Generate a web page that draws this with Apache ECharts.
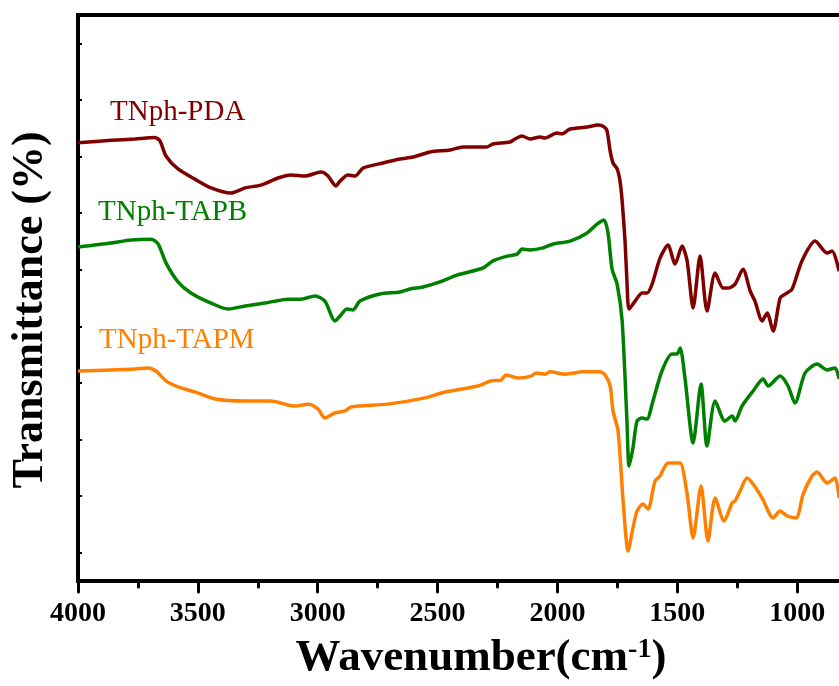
<!DOCTYPE html>
<html>
<head>
<meta charset="utf-8">
<script src="https://cdn.jsdelivr.net/npm/echarts@6/dist/echarts.min.js"></script>
<style>
html,body{margin:0;padding:0;background:#fff;}
#chart{width:839px;height:686px;}
</style>
</head>
<body>
<div id="chart"></div>
<script>
// Wavenumber (cm^-1) and transmittance (arbitrary offset units)
const pdaWave = [4000,3862,3762,3679,3658,3633,3583,3512,3445,3362,3303,3237,3166,3111,3053,2986,2957,2924,2907,2874,2844,2811,2728,2657,2602,2531,2448,2394,2294,2269,2198,2177,2148,2114,2073,2052,2002,1981,1947,1876,1831,1806,1793,1780,1768,1751,1739,1730,1718,1710,1701,1676,1647,1626,1605,1572,1539,1509,1480,1459,1434,1405,1376,1342,1309,1288,1259,1226,1196,1176,1146,1125,1100,1071,1050,1021,980,925,875,854,825];
const pdaT = [15.49,15.57,15.62,15.67,15.55,15.02,14.56,14.20,13.89,13.71,13.89,13.99,14.24,14.35,14.31,14.45,14.31,13.96,14.13,14.35,14.31,14.59,14.77,14.91,14.98,15.16,15.23,15.34,15.34,15.44,15.51,15.62,15.72,15.62,15.69,15.65,15.83,15.80,15.97,16.04,16.11,16.05,15.90,15.19,14.77,14.56,14.13,13.43,12.01,10.60,9.61,9.89,10.18,10.18,10.49,11.41,11.87,11.20,11.84,11.31,9.65,11.48,9.54,10.88,10.35,10.35,10.49,11.02,10.25,9.89,9.19,9.47,8.83,10.00,10.14,10.32,11.31,12.01,11.59,11.66,10.95];

const tapbWave = [4000,3862,3779,3695,3666,3633,3583,3529,3445,3374,3303,3220,3124,3070,3011,2970,2928,2907,2878,2853,2824,2740,2657,2615,2561,2490,2419,2310,2269,2210,2168,2148,2114,2060,2018,1947,1876,1835,1806,1789,1772,1751,1730,1710,1701,1685,1668,1647,1626,1605,1564,1522,1501,1488,1468,1434,1401,1376,1342,1301,1271,1259,1230,1184,1142,1121,1071,1038,1009,967,917,875,842,825];
const tapbT = [11.80,11.94,12.05,12.08,11.91,11.24,10.57,10.18,9.82,9.61,9.72,9.82,9.96,9.96,10.07,9.89,9.19,9.36,9.61,9.58,9.89,10.14,10.21,10.32,10.39,10.57,10.81,11.06,11.31,11.48,11.55,11.73,11.70,11.77,11.91,12.01,12.30,12.61,12.76,12.30,11.02,10.49,9.19,5.65,4.06,4.70,5.65,5.76,5.72,6.25,7.42,8.02,8.02,8.23,7.17,4.88,6.96,4.77,6.36,5.65,5.83,5.65,6.18,6.71,7.14,6.89,7.24,6.89,6.29,7.35,7.67,7.46,7.53,7.14];

const tapmWave = [4000,3862,3762,3708,3675,3633,3583,3512,3428,3303,3195,3095,3040,2999,2970,2928,2886,2861,2707,2552,2469,2331,2277,2235,2214,2164,2110,2089,2052,2031,1968,1893,1822,1801,1780,1768,1747,1726,1705,1685,1668,1643,1622,1593,1572,1539,1509,1488,1459,1434,1401,1372,1342,1305,1271,1259,1238,1209,1184,1146,1100,1071,1042,1004,975,938,917,875,842,825];
const tapmT = [7.42,7.46,7.49,7.53,7.42,7.07,6.86,6.68,6.43,6.36,6.36,6.18,6.25,6.08,5.76,5.94,6.01,6.15,6.25,6.47,6.68,6.89,7.07,7.10,7.28,7.17,7.24,7.35,7.31,7.39,7.31,7.39,7.39,7.28,6.89,6.01,5.30,2.83,1.06,1.87,2.47,2.72,2.54,3.53,3.71,4.17,4.17,4.17,3.07,1.52,3.36,1.41,2.93,2.12,2.76,2.83,3.18,3.64,3.43,2.93,2.23,2.47,2.30,2.23,3.07,3.71,3.85,3.46,3.64,2.93];

const seriesNames = ['TNph-PDA','TNph-TAPB','TNph-TAPM'];
const seriesColors = ['#800000','#008000','#FF8000'];
const yTicks = [1,3,5,7,9,11,13,15,17,19];

const zip = (a,b) => a.map((v,i) => [v,b[i]]);
const allData = [zip(pdaWave,pdaT), zip(tapbWave,tapbT), zip(tapmWave,tapmT)];

const FONT = "'Liberation Serif','Times New Roman',serif";
const chart = echarts.init(document.getElementById('chart'), null, {renderer:'canvas'});

chart.setOption({
  animation:false,
  backgroundColor:'#fff',
  grid:{left:78, top:15, bottom:105, width:839, containLabel:false, outerBoundsMode:'none',
        show:true, borderColor:'#000', borderWidth:4, backgroundColor:'transparent'},
  xAxis:{
    type:'value', min:500, max:4000, interval:500, inverse:true,
    axisLine:{show:true, lineStyle:{color:'#000', width:4}},
    axisTick:{show:true, length:11, lineStyle:{color:'#000', width:3, cap:'round'}},
    minorTick:{show:true, splitNumber:2, length:6, lineStyle:{color:'#000', width:3, cap:'round'}},
    axisLabel:{show:true, margin:19, color:'#000', fontFamily:FONT, fontWeight:'bold', fontSize:28,
               formatter:(v) => String(v)},
    splitLine:{show:false}
  },
  yAxis:{
    type:'value', min:0, max:20,
    axisLine:{show:true, lineStyle:{color:'#000', width:4}},
    axisTick:{show:true, inside:true, length:4, customValues:yTicks, lineStyle:{color:'#000', width:2}},
    axisLabel:{show:false},
    splitLine:{show:false}
  },
  series: allData.map((d,i) => ({
    name: seriesNames[i], type:'line', data:d, showSymbol:false, smooth:0.25,
    lineStyle:{color:seriesColors[i], width:3.5}, itemStyle:{color:seriesColors[i]}
  })),
  graphic:[
    {type:'text', left:110, top:98, style:{text:seriesNames[0], fill:seriesColors[0], font:'29px '+FONT}},
    {type:'text', left:98, top:198, style:{text:seriesNames[1], fill:seriesColors[1], font:'29px '+FONT}},
    {type:'text', left:99, top:326, style:{text:seriesNames[2], fill:seriesColors[2], font:'29px '+FONT}},
    {type:'text', x:31, y:310, rotation:Math.PI/2, style:{text:'Transmittance (%)', fill:'#000', font:'bold 44px '+FONT, align:'center', verticalAlign:'middle'}},
    {type:'text', x:481, y:658, style:{
      text:'{a|Wavenumber(cm}{s|-1}{a|)}', align:'center', verticalAlign:'middle',
      rich:{a:{fontFamily:FONT, fontWeight:'bold', fontSize:45, fill:'#000', color:'#000'},
            s:{fontFamily:FONT, fontWeight:'bold', fontSize:28, fill:'#000', color:'#000', verticalAlign:'top'}}
    }}
  ]
});
</script>
</body>
</html>
